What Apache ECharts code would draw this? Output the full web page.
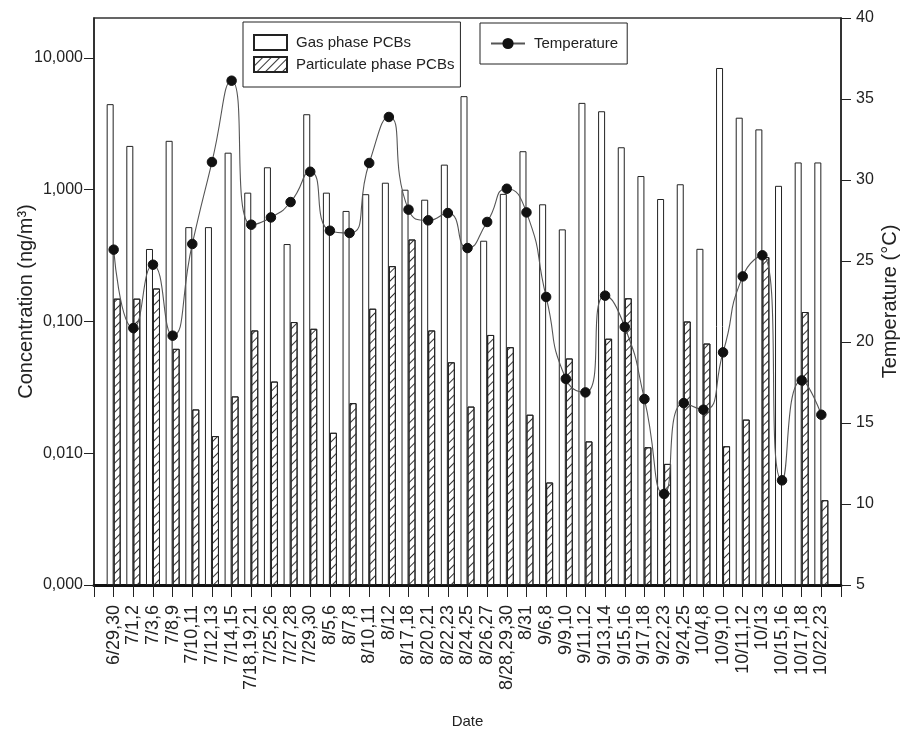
<!DOCTYPE html>
<html><head><meta charset="utf-8">
<script src="https://cdn.jsdelivr.net/npm/echarts@6/dist/echarts.min.js"></script>
<style>html,body{margin:0;padding:0;background:#fff}#c{width:911px;height:737px}</style>
</head><body><div id="c"></div>
<script>
// ---- data ----
const categories = ['6/29,30','7/1,2','7/3,6','7/8,9','7/10,11','7/12,13','7/14,15','7/18,19,21','7/25,26','7/27,28','7/29,30','8/5,6','8/7,8','8/10,11','8/12','8/17,18','8/20,21','8/22,23','8/24,25','8/26,27','8/28,29,30','8/31','9/6,8','9/9,10','9/11,12','9/13,14','9/15,16','9/17,18','9/22,23','9/24,25','10/4,8','10/9,10','10/11,12','10/13','10/15,16','10/17,18','10/22,23'];
const gasPhase = [4.46,2.15,0.355,2.35,0.52,0.52,1.91,0.95,1.48,0.387,3.74,0.95,0.69,0.925,1.13,1.0,0.84,1.55,5.13,0.41,0.93,1.96,0.775,0.50,4.56,3.94,2.10,1.27,0.85,1.10,0.356,8.39,3.52,2.87,1.07,1.61,1.61];
const particulatePhase = [0.149,0.149,0.178,0.062,0.0215,0.0135,0.027,0.0855,0.035,0.099,0.088,0.0143,0.024,0.125,0.263,0.419,0.0855,0.049,0.0226,0.079,0.0638,0.0196,0.006,0.0524,0.0123,0.074,0.15,0.0111,0.0083,0.100,0.068,0.0113,0.018,0.308,null,0.118,0.0044];
const temperature = [25.7,20.86,24.77,20.39,26.05,31.11,36.13,27.24,27.69,28.64,30.51,26.87,26.73,31.05,33.89,28.17,27.51,27.96,25.8,27.41,29.46,28.0,22.78,17.73,16.89,22.86,20.93,16.48,10.62,16.23,15.82,19.36,24.05,25.35,11.46,17.63,15.51];
const concTickValues = [0.001,0.01,0.1,1,10];
const concTickLabels = ['0,000','0,010','0,100','1,000','10,000'];
const concMax = 20.1;
const tempTicks = [5,10,15,20,25,30,35,40];

// ---- helpers (log transform offset so bars rise from the axis minimum) ----
const LOG0 = Math.log10(concTickValues[0]);
const toAxis = v => (v == null ? '-' : Math.log10(v) - LOG0);
const pad = arr => ['-', ...arr, '-'];
const tickPos = concTickValues.map(v => Math.log10(v) - LOG0);

const FONT = 'Liberation Sans, Arial, sans-serif';
const TXT = '#222';

const chart = echarts.init(document.getElementById('c'), null, {renderer: 'canvas'});
chart.setOption({
  animation: false,
  backgroundColor: '#fff',
  grid: {left: 94, right: 70, top: 18, bottom: 152, show: true, borderColor: '#333', borderWidth: 1.5,
         containLabel: false, outerBoundsMode: 'none'},
  legend: [
    {
      data: ['Gas phase PCBs', 'Particulate phase PCBs'],
      orient: 'vertical', left: 243, top: 22,
      itemWidth: 33, itemHeight: 15, itemGap: 5, icon: 'rect',
      borderColor: '#222', borderWidth: 1, padding: [12, 6, 14, 10],
      selectedMode: false,
      textStyle: {fontSize: 15, fontFamily: FONT, color: TXT, padding: [0, 0, 0, 4]}
    },
    {
      data: ['Temperature'],
      left: 480, top: 23,
      itemWidth: 34, itemHeight: 14,
      borderColor: '#222', borderWidth: 1, padding: [13, 9, 13, 10],
      selectedMode: false,
      textStyle: {fontSize: 15, fontFamily: FONT, color: TXT, padding: [0, 0, 0, 4]}
    }
  ],
  xAxis: {
    type: 'category',
    data: ['', ...categories, ''],
    boundaryGap: false,
    name: 'Date', nameLocation: 'middle', nameGap: 129, nameMoveOverlap: false,
    nameTextStyle: {fontSize: 15, fontFamily: FONT, color: TXT},
    axisLine: {lineStyle: {color: '#111', width: 3}},
    axisTick: {show: true, interval: 0, length: 12, lineStyle: {color: '#222', width: 1}},
    axisLabel: {interval: 0, rotate: 90, margin: 20, fontSize: 18, fontFamily: FONT, color: TXT},
    splitLine: {show: false}
  },
  yAxis: [
    {
      type: 'value', min: 0, max: Math.log10(concMax) - LOG0,
      name: 'Concentration (ng/m³)', nameLocation: 'middle', nameGap: 58, nameRotate: 90, nameMoveOverlap: false,
      nameTextStyle: {fontSize: 20, fontFamily: FONT, color: TXT},
      axisLine: {show: true, lineStyle: {color: '#222', width: 1.5}},
      axisTick: {show: true, length: 10, customValues: tickPos, lineStyle: {color: '#222'}},
      axisLabel: {
        customValues: tickPos, margin: 11, fontSize: 16, fontFamily: FONT, color: TXT,
        formatter: v => { const i = tickPos.findIndex(t => Math.abs(t - v) < 1e-6); return i >= 0 ? concTickLabels[i] : ''; }
      },
      splitLine: {show: false}
    },
    {
      type: 'value', min: tempTicks[0], max: tempTicks[tempTicks.length - 1], interval: 5,
      position: 'right',
      name: 'Temperature (°C)', nameLocation: 'middle', nameGap: 39, nameRotate: 90, nameMoveOverlap: false,
      nameTextStyle: {fontSize: 20, fontFamily: FONT, color: TXT},
      axisLine: {show: true, lineStyle: {color: '#222', width: 1.5}},
      axisTick: {show: true, length: 10, lineStyle: {color: '#222'}},
      axisLabel: {margin: 15, fontSize: 16, fontFamily: FONT, color: TXT},
      splitLine: {show: false}
    }
  ],
  series: [
    {
      name: 'Gas phase PCBs', type: 'bar', yAxisIndex: 0,
      barWidth: 7, barGap: '0%',
      itemStyle: {color: '#fff', borderColor: '#222', borderWidth: 1},
      data: pad(gasPhase.map(toAxis))
    },
    {
      name: 'Particulate phase PCBs', type: 'bar', yAxisIndex: 0,
      barWidth: 7, barGap: '0%',
      itemStyle: {
        color: '#fff', borderColor: '#222', borderWidth: 1,
        decal: {symbol: 'rect', symbolSize: 1, color: '#333', dashArrayX: [1, 0], dashArrayY: [1, 5], rotation: -Math.PI / 4}
      },
      data: pad(particulatePhase.map(toAxis))
    },
    {
      name: 'Temperature', type: 'line', yAxisIndex: 1, z: 5,
      smooth: 0.6, symbol: 'circle', symbolSize: 9.5,
      lineStyle: {color: '#555', width: 1.1},
      itemStyle: {color: '#111', borderColor: '#111'},
      data: pad(temperature)
    }
  ]
});
</script>
</body></html>
